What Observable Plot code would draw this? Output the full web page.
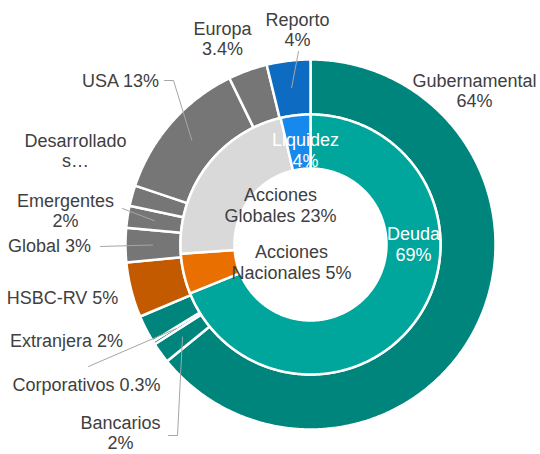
<!DOCTYPE html>
<html><head><meta charset="utf-8">
<script src="https://cdn.jsdelivr.net/npm/d3@7"></script>
<script src="https://cdn.jsdelivr.net/npm/@observablehq/plot@0.6"></script>
<style>body{margin:0;background:#fff}</style>
</head><body><div id="chart"></div>
<script>
// ---- data ----
const innerNames = ["Deuda", "Acciones Nacionales", "Acciones Globales", "Liquidez"];
const innerValues = [69, 5, 22.5, 3.7];
const innerLabels = ["Deuda\n69%", "Acciones\nNacionales 5%", "Acciones\nGlobales 23%", "Liquidez\n4%"];
const innerColors = ["#00a69c", "#e86f00", "#d9d9d9", "#1789ec"];

const outerNames = ["Gubernamental", "Bancarios", "Corporativos", "Extranjera", "HSBC-RV", "Global", "Emergentes", "Desarrollados", "USA", "Europa", "Reporto"];
const outerValues = [64, 1.8, 0.3, 2.4, 4.8, 3.0, 1.9, 1.8, 12.6, 3.4, 3.8];
const outerLabels = ["Gubernamental\n64%", "Bancarios\n2%", "Corporativos 0.3%", "Extranjera 2%", "HSBC-RV 5%", "Global 3%", "Emergentes\n2%", "Desarrollado\ns…", "USA 13%", "Europa\n3.4%", "Reporto\n4%"];
const outerColors = ["#00857d", "#00857d", "#00857d", "#00857d", "#c45a00", "#767676", "#767676", "#767676", "#767676", "#767676", "#0d6bc2"];

// ---- layout (pixel positions of label blocks and leader starts) ----
const W = 540, H = 454, CX = 310, CY = 244;
const R = {innerHole: 76, ring: 130, outer: 185, leader: 158};
const innerLabelPos = {
  "Deuda": [413, 243], "Acciones Nacionales": [291, 261],
  "Acciones Globales": [280, 204], "Liquidez": [305, 149]
};
const outerLabelPos = {
  "Gubernamental": {t: [474, 90]},
  "Reporto": {t: [297, 29], leader: [[298, 51]]},
  "Europa": {t: [222, 38]},
  "USA": {t: [120, 80], leader: [[164, 80], [173, 80]]},
  "Desarrollados": {t: [75, 150]},
  "Emergentes": {t: [65, 210], leader: [[122, 208]]},
  "Global": {t: [49, 245], leader: [[100, 246]]},
  "HSBC-RV": {t: [62, 297]},
  "Extranjera": {t: [66, 340]},
  "Corporativos": {t: [86, 384], leader: [[88, 366]]},
  "Bancarios": {t: [120, 432], leader: [[168, 435], [177, 435]]}
};
const px = ([x, y]) => ({x: x - CX, y: CY - y});

// ---- geometry ----
function slices(names, values, colors, r0, r1) {
  const total = d3.sum(values);
  let acc = 0;
  return names.map((name, i) => {
    const a0 = acc / total * 2 * Math.PI;
    acc += values[i];
    const a1 = acc / total * 2 * Math.PI;
    return {name, color: colors[i], a0, a1, r0, r1, mid: (a0 + a1) / 2};
  });
}
function polygon(s) {
  const pts = [];
  const n = Math.max(2, Math.ceil((s.a1 - s.a0) / (Math.PI / 360)));
  for (let k = 0; k <= n; k++) {
    const a = s.a0 + (s.a1 - s.a0) * k / n;
    pts.push({name: s.name, color: s.color, x: s.r1 * Math.sin(a), y: s.r1 * Math.cos(a)});
  }
  for (let k = n; k >= 0; k--) {
    const a = s.a0 + (s.a1 - s.a0) * k / n;
    pts.push({name: s.name, color: s.color, x: s.r0 * Math.sin(a), y: s.r0 * Math.cos(a)});
  }
  return pts;
}
const inner = slices(innerNames, innerValues, innerColors, R.innerHole, R.ring);
const outer = slices(outerNames, outerValues, outerColors, R.ring, R.outer);
const polys = [...outer, ...inner].flatMap(polygon);

const leaders = [];
outer.forEach(s => {
  const L = outerLabelPos[s.name];
  if (L && L.leader) {
    L.leader.forEach(p => leaders.push({name: s.name, ...px(p)}));
    leaders.push({name: s.name, x: R.leader * Math.sin(s.mid), y: R.leader * Math.cos(s.mid)});
  }
});
const outerText = outer.map((s, i) => ({text: outerLabels[i], ...px(outerLabelPos[s.name].t)}));
const innerText = inner.map((s, i) => ({text: innerLabels[i], light: i === 0 || i === 3, ...px(innerLabelPos[s.name])}));

const chart = Plot.plot({
  width: W, height: H,
  marginTop: 0, marginRight: 0, marginBottom: 0, marginLeft: 0,
  x: {domain: [-CX, W - CX], axis: null},
  y: {domain: [CY - H, CY], axis: null},
  style: {background: "#fff", fontFamily: "'Liberation Sans', Arial, sans-serif"},
  marks: [
    Plot.line(polys, {x: "x", y: "y", z: "name", fill: "color", stroke: "white", strokeWidth: 2.5, curve: "linear-closed"}),
    Plot.line(leaders, {x: "x", y: "y", z: "name", stroke: "#a6a6a6", strokeWidth: 1}),
    Plot.text(outerText, {x: "x", y: "y", text: "text", fill: "#404040", fontSize: 18, lineHeight: 1.15}),
    Plot.text(innerText, {x: "x", y: "y", text: "text", fill: d => d.light ? "#ffffff" : "#404040", fontSize: 18, lineHeight: 1.17})
  ]
});
document.getElementById("chart").appendChild(chart);
</script>
</body></html>
